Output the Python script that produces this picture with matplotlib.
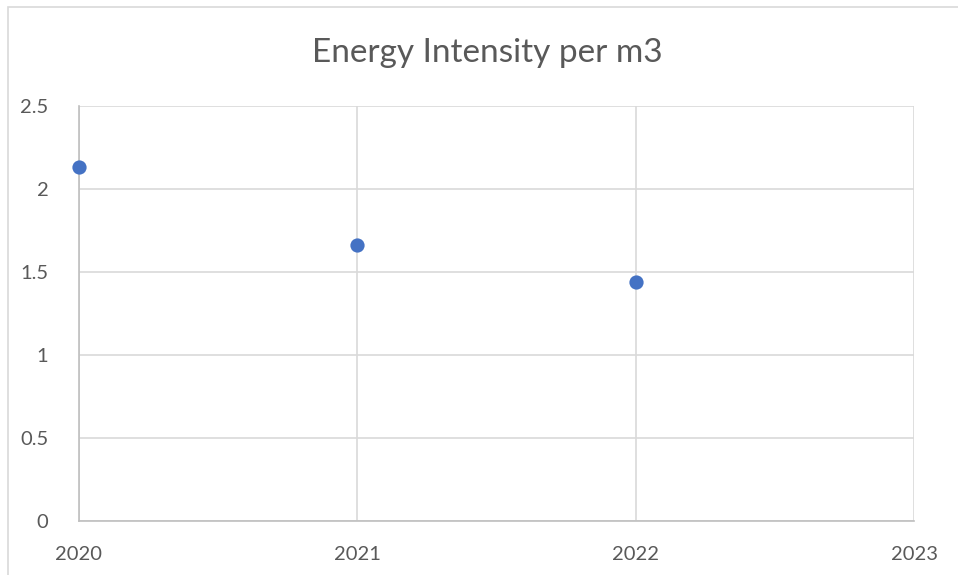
import matplotlib
matplotlib.use("Agg")
import matplotlib.pyplot as plt
from matplotlib.patches import Rectangle

years = [2020, 2021, 2022]
intensity = [2.13, 1.66, 1.44]
x_ticks = [2020, 2021, 2022, 2023]
y_ticks = [0, 0.5, 1, 1.5, 2, 2.5]
y_tick_labels = ["0", "0.5", "1", "1.5", "2", "2.5"]
title = "Energy Intensity per m3"

plt.rcParams['font.family'] = ['Lato', 'DejaVu Sans']
txt = "#595959"
grid = "#d9d9d9"

fig = plt.figure(figsize=(9.58, 5.75), dpi=100)
fig.patches.append(Rectangle((8/958, -0.1), 1.2, 1 - 7/575 + 0.1, transform=fig.transFigure,
                             fill=False, edgecolor="#d9d9d9", linewidth=1.2, zorder=0))
ax = fig.add_axes([79/958, 1 - 521/575, (914 - 79)/958, (521 - 106)/575])
ax.scatter(years, intensity, s=105, color="#4472C4", zorder=3, clip_on=False, linewidths=0)
ax.set_xlim(2020, 2023)
ax.set_ylim(0, 2.5)
ax.set_xticks(x_ticks)
ax.set_xticklabels([str(v) for v in x_ticks])
ax.set_yticks(y_ticks)
ax.set_yticklabels(y_tick_labels)
ax.grid(True, color=grid, linewidth=1.2)
ax.set_axisbelow(True)
for s in ["top", "right"]:
    ax.spines[s].set_visible(False)
ax.spines["left"].set_color("#bfbfbf")
ax.spines["bottom"].set_color("#bfbfbf")
ax.spines["left"].set_linewidth(1.2)
ax.spines["bottom"].set_linewidth(1.2)
ax.tick_params(axis="both", length=0, labelsize=14.5, labelcolor=txt)
ax.tick_params(axis="y", pad=22)
ax.tick_params(axis="x", pad=18)
fig.text(487/958, 1 - 53/575, title, ha="center", va="center", fontsize=24, color=txt)
fig.savefig("out.png", dpi=100, facecolor="white")
